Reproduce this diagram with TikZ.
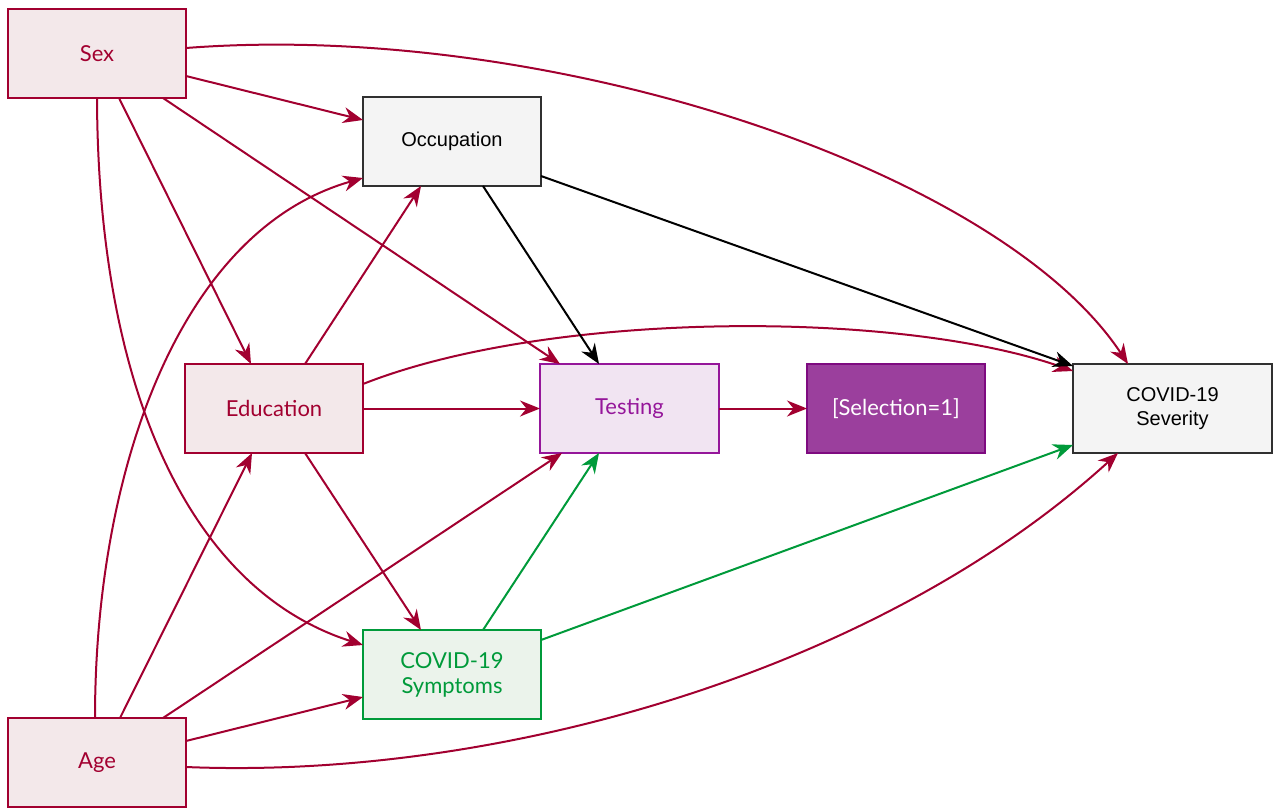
\documentclass[tikz,border=0pt]{standalone}
\usepackage{fontspec}
\setmainfont{Lato}
\newfontfamily\helv{Liberation Sans}
\usetikzlibrary{arrows.meta}
\definecolor{crim}{HTML}{A20030}
\definecolor{crimfill}{HTML}{F3E8EA}
\definecolor{purp}{HTML}{95169A}
\definecolor{purpfill}{HTML}{F1E4F2}
\definecolor{selfill}{HTML}{9B3F9D}
\definecolor{seldraw}{HTML}{7E0A80}
\definecolor{grn}{HTML}{009A3A}
\definecolor{grnfill}{HTML}{EBF3EB}
\definecolor{greyfill}{HTML}{F4F4F4}
\definecolor{greydraw}{HTML}{303030}
\tikzset{
  box/.style={draw, line width=2.2pt, minimum width=178pt, minimum height=89pt,
    inner sep=0pt, outer sep=0pt, anchor=north west, align=center,
    font=\fontsize{22}{25}\selectfont},
  redbox/.style={box, draw=crim, fill=crimfill, text=crim},
  testbox/.style={box, draw=purp, fill=purpfill, text=purp},
  selbox/.style={box, draw=seldraw, fill=selfill, text=white},
  grnbox/.style={box, draw=grn, fill=grnfill, text=grn},
  greybox/.style={box, draw=greydraw, fill=greyfill, text=black, font=\helv\fontsize{20}{24.5}\selectfont},
  arr/.style={line width=2pt, -{Stealth[length=20pt,width=16pt,inset=6.5pt]}},
  redarr/.style={arr, draw=crim},
  blkarr/.style={arr, draw=black},
  grnarr/.style={arr, draw=grn},
}
\begin{document}
\begin{tikzpicture}[x=1pt,y=-1pt]
\useasboundingbox (0,0) rectangle (1273,809);
% nodes
\node[redbox] (sex) at (8,9) {\raisebox{-2pt}{Sex}};
\node[redbox] (age) at (8,718) {\raisebox{-2pt}{Age}};
\node[greybox] (occ) at (363,97) {Occupation};
\node[redbox] (edu) at (185,364) {\raisebox{-2pt}{Education}};
\node[testbox, minimum width=179pt] (test) at (540,364) {Testing};
\node[selbox] (sel) at (807,364) {[Selection=1]};
\node[greybox, minimum width=199pt] (sev) at (1073,364) {COVID-19\\ Severity};
\node[grnbox] (sym) at (363,630) {COVID-19\\Symptoms};
% edges from Sex
\draw[redarr] ([shift={(178,39)}]sex.north west) .. controls (550,20) and (1000,170) .. ([shift={(55,0)}]sev.north west);
\draw[redarr] ([shift={(178,67)}]sex.north west) -- ([shift={(0,23)}]occ.north west);
\draw[redarr] ([shift={(155,89)}]sex.north west) -- ([shift={(20,0)}]test.north west);
\draw[redarr] ([shift={(111,89)}]sex.north west) -- ([shift={(66,0)}]edu.north west);
\draw[redarr] (sex.south) .. controls (98,390) and (190,590) .. ([shift={(0,15)}]sym.north west);
% edges from Age
\draw[redarr] ([shift={(87,0)}]age.north west) .. controls (95,470) and (180,230) .. ([shift={(0,81)}]occ.north west);
\draw[redarr] ([shift={(112,0)}]age.north west) -- ([shift={(67,89)}]edu.north west);
\draw[redarr] ([shift={(155,0)}]age.north west) -- ([shift={(22,89)}]test.north west);
\draw[redarr] ([shift={(178,23)}]age.north west) -- ([shift={(0,67)}]sym.north west);
\draw[redarr] ([shift={(178,49)}]age.north west) .. controls (500,780) and (880,670) .. ([shift={(45,89)}]sev.north west);
% edges from Education
\draw[redarr] ([shift={(120,0)}]edu.north west) -- ([shift={(58,89)}]occ.north west);
\draw[redarr] (edu.east) -- (test.west);
\draw[redarr] ([shift={(178,20)}]edu.north west) .. controls (550,310) and (900,310) .. ([shift={(0,7)}]sev.north west);
\draw[redarr] ([shift={(120,89)}]edu.north west) -- ([shift={(58,0)}]sym.north west);
% edges from Occupation
\draw[blkarr] ([shift={(120,89)}]occ.north west) -- ([shift={(59,0)}]test.north west);
\draw[blkarr] ([shift={(178,79)}]occ.north west) -- ([shift={(0,2)}]sev.north west);
% Testing to Selection
\draw[redarr] (test.east) -- (sel.west);
% from Symptoms
\draw[grnarr] ([shift={(120,0)}]sym.north west) -- ([shift={(59,89)}]test.north west);
\draw[grnarr] ([shift={(178,10)}]sym.north west) -- ([shift={(0,81)}]sev.north west);
\end{tikzpicture}
\end{document}
